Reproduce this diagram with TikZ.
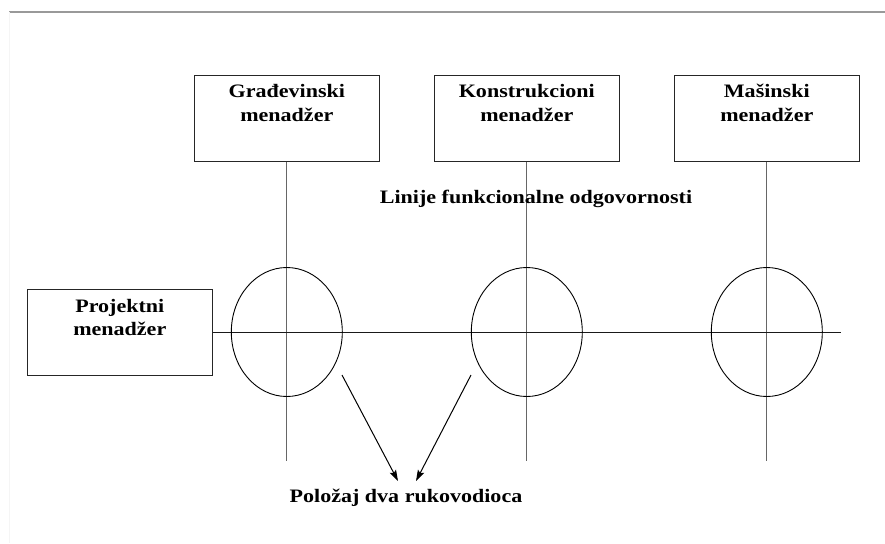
\documentclass[tikz,border=0pt]{standalone}
\usepackage{fontspec}
\setmainfont{Liberation Serif}[FakeStretch=1.16]
\usetikzlibrary{shapes.geometric,arrows.meta}
\tikzset{
  x=1pt, y=-1pt,
  mgrbox/.style={draw=black!85, line width=1.1pt, rectangle, inner sep=0pt, minimum width=185pt, minimum height=86pt},
  boxtext/.style={font=\fontsize{19}{23.6}\selectfont\bfseries, align=center, inner sep=0pt, anchor=north},
  plaintext/.style={font=\fontsize{19}{23.6}\selectfont\bfseries, inner sep=0pt, anchor=base},
  posell/.style={draw=black, line width=0.9pt, ellipse, inner sep=0pt, minimum width=111pt, minimum height=129pt},
  vline/.style={draw=black!60, line width=1.1pt},
  hline/.style={draw=black!90, line width=1pt},
  pointer/.style={draw=black, line width=1pt, -{Stealth[length=11pt,width=7pt,inset=2pt]}}
}
\begin{document}
\begin{tikzpicture}
\useasboundingbox (0,0) rectangle (885,543);
% page rule
\coordinate (ruleL) at (9,11.7);
\coordinate (ruleR) at (885,11.7);
\coordinate (edgeB) at (9,543);
\draw[draw=black!40, line width=2pt] (ruleL) -- (ruleR);
\draw[draw=black!4, line width=1pt] (ruleL) -- (edgeB);

% functional manager boxes
\node[mgrbox] (gm) at (286.8,118.3) {};
\node[boxtext] (gmt) at (286.8,84.3) {Građevinski\\menadžer};
\node[mgrbox] (km) at (526.8,118.3) {};
\node[boxtext] (kmt) at (526.8,84.3) {Konstrukcioni\\menadžer};
\node[mgrbox] (mm) at (766.8,118.3) {};
\node[boxtext] (mmt) at (766.8,84.3) {Mašinski\\menadžer};

% project manager box
\node[mgrbox] (pm) at (119.8,332.3) {};
\node[boxtext] (pmt) at (119.8,298.8) {Projektni\\menadžer};

% line ends
\coordinate (gb) at (286.8,460.5);
\coordinate (kb) at (526.8,460.5);
\coordinate (mb) at (766.8,460.5);
\coordinate (hr) at (841,332);

% lines
\draw[vline] (gm.south) -- (gb);
\draw[vline] (km.south) -- (kb);
\draw[vline] (mm.south) -- (mb);
\draw[hline] (pm.east |- hr) -- (hr);

% position ellipses
\node[posell] (e1) at (286.8,332) {};
\node[posell] (e2) at (526.8,332) {};
\node[posell] (e3) at (766.8,332) {};

% labels
\node[plaintext] (lfo) at (536,203.3) {Linije funkcionalne odgovornosti};
\node[plaintext] (pdr) at (406,502.7) {Položaj dva rukovodioca};

% arrows
\coordinate (a1s) at (342,375);
\coordinate (a1e) at (398,481);
\coordinate (a2s) at (471,375);
\coordinate (a2e) at (416,481);
\draw[pointer] (a1s) -- (a1e);
\draw[pointer] (a2s) -- (a2e);
\end{tikzpicture}
\end{document}
